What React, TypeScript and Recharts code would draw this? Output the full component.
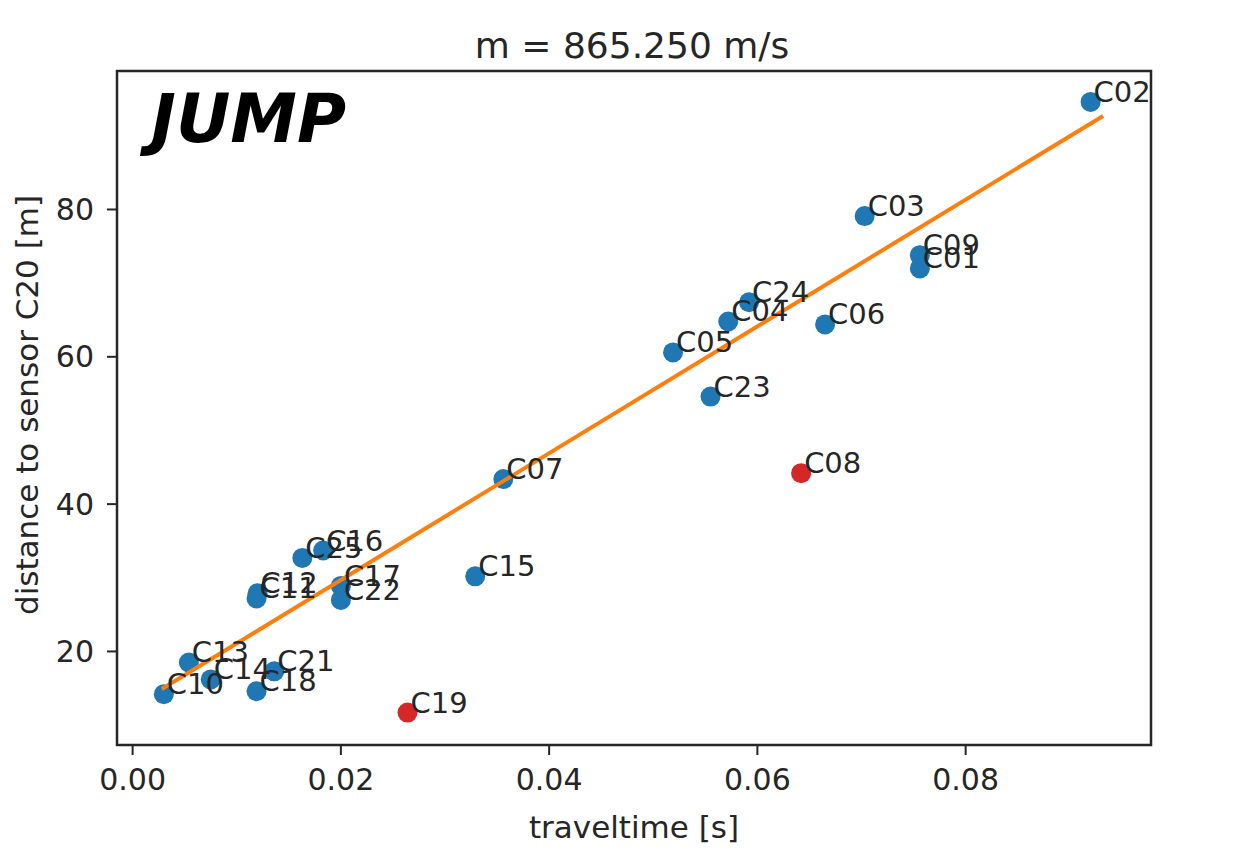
import React from 'react';
import { ScatterChart, Scatter, XAxis, YAxis, ReferenceArea, Label } from 'recharts';

// sensors (traveltime in s, distance in m)
const sensorNames = ['C02', 'C03', 'C09', 'C01', 'C24', 'C04', 'C06', 'C05', 'C23', 'C07', 'C15', 'C16', 'C25', 'C12', 'C11', 'C17', 'C22', 'C13', 'C14', 'C21', 'C18', 'C10'];
const sensorTimes = [0.0920, 0.0703, 0.0756, 0.0756, 0.0592, 0.0572, 0.0665, 0.0519, 0.0555, 0.0356, 0.0329, 0.0183, 0.0163, 0.0120, 0.0119, 0.0200, 0.0200, 0.0054, 0.0075, 0.0136, 0.0119, 0.0030];
const sensorDistances = [94.6, 79.1, 73.8, 72.0, 67.4, 64.8, 64.4, 60.6, 54.6, 43.4, 30.2, 33.7, 32.7, 27.9, 27.2, 28.9, 27.0, 18.5, 16.2, 17.3, 14.6, 14.2];

// excluded sensors (red)
const outlierNames = ['C08', 'C19'];
const outlierTimes = [0.0642, 0.0264];
const outlierDistances = [44.2, 11.7];

// fitted line, m = 865.250 m/s
const fitTimes = [0.0028, 0.0932];
const fitDistances = [14.9, 92.7];

const xTicks = [0, 0.02, 0.04, 0.06, 0.08];
const yTicks = [20, 40, 60, 80];
const xDomain = [-0.0015, 0.0978];
const yDomain = [7.3, 98.8];

const sensors = sensorNames.map((name, i) => ({ name, x: sensorTimes[i], y: sensorDistances[i] }));
const outliers = outlierNames.map((name, i) => ({ name, x: outlierTimes[i], y: outlierDistances[i] }));
const fit = fitTimes.map((x, i) => ({ x, y: fitDistances[i] }));
const allPoints = [...sensors, ...outliers];

const FONT = '"DejaVu Sans", sans-serif';
const INK = '#262626';

const dot = (color: string) => (p: any) => <circle cx={p.cx} cy={p.cy} r={10} fill={color} />;

const nameLabel = (p: any) => (
  <text x={p.cx + 3} y={p.cy} fontSize={29} fontFamily={FONT} fill={INK}>
    {p.payload.name}
  </text>
);

export default function App() {
  return (
    <div style={{ position: 'absolute', left: 0, top: 0, width: 1236, height: 868, background: '#fff' }}>
      <ScatterChart width={1236} height={868} margin={{ top: 71, right: 85, bottom: 0, left: 0 }}>
        <XAxis
          type="number"
          dataKey="x"
          domain={xDomain}
          ticks={xTicks}
          allowDataOverflow
          height={123}
          axisLine={false}
          tickLine={{ stroke: INK, strokeWidth: 2 }}
          tickSize={10}
          tickMargin={14}
          tick={{ fill: INK, fontSize: 30, fontFamily: FONT }}
          tickFormatter={(v: number) => v.toFixed(2)}
        >
          <Label
            content={({ viewBox }: any) => (
              <text x={viewBox.x + viewBox.width / 2} y={viewBox.y + 93} textAnchor="middle" fontSize={31} fontFamily={FONT} fill={INK}>
                traveltime [s]
              </text>
            )}
          />
        </XAxis>
        <YAxis
          type="number"
          dataKey="y"
          domain={yDomain}
          ticks={yTicks}
          allowDataOverflow
          width={117}
          axisLine={false}
          tickLine={{ stroke: INK, strokeWidth: 2 }}
          tickSize={10}
          tickMargin={13}
          tick={{ fill: INK, fontSize: 30, fontFamily: FONT }}
        >
          <Label
            content={({ viewBox }: any) => {
              const cx = 38;
              const cy = viewBox.y + viewBox.height / 2 - 3;
              return (
                <text x={cx} y={cy} transform={`rotate(-90, ${cx}, ${cy})`} textAnchor="middle" fontSize={31} fontFamily={FONT} fill={INK}>
                  distance to sensor C20 [m]
                </text>
              );
            }}
          />
        </YAxis>
        <Scatter data={sensors} fill="#1f77b4" shape={dot('#1f77b4')} isAnimationActive={false} />
        <Scatter data={outliers} fill="#d62728" shape={dot('#d62728')} isAnimationActive={false} />
        <Scatter data={fit} line={{ stroke: '#ff7f0e', strokeWidth: 4 }} shape={() => <g />} isAnimationActive={false} />
        <Scatter data={allPoints} shape={nameLabel} isAnimationActive={false} />
        <ReferenceArea
          x1={xDomain[0]}
          x2={xDomain[1]}
          y1={yDomain[0]}
          y2={yDomain[1]}
          fill="none"
          fillOpacity={0}
          stroke={INK}
          strokeWidth={2.5}
          ifOverflow="visible"
        />
      </ScatterChart>
      <svg width={1236} height={868} style={{ position: 'absolute', left: 0, top: 0, pointerEvents: 'none' }}>
        <text x={632} y={58} textAnchor="middle" fontSize={36} fontFamily={FONT} fill={INK}>
          m = 865.250 m/s
        </text>
        <text x={151} y={142} fontSize={67} fontWeight="bold" fontStyle="italic" fontFamily={FONT} fill="#000">
          JUMP
        </text>
      </svg>
    </div>
  );
}
